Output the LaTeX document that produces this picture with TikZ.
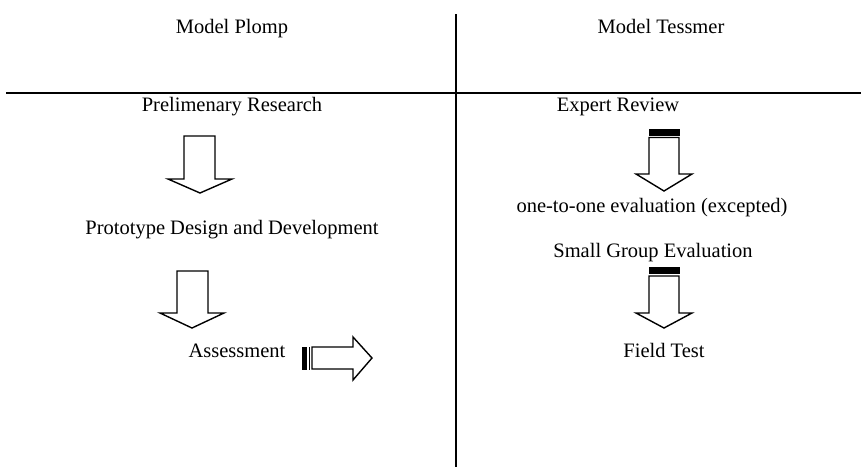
\documentclass[tikz,border=0pt]{standalone}
\usepackage{fontspec}
\setmainfont{Liberation Serif}
\begin{document}
\begin{tikzpicture}[x=1pt,y=-1pt,
  lbl/.style={font=\fontsize{20.5}{24}\selectfont, anchor=base, inner sep=0pt},
  rule/.style={line width=2pt},
  blockarrow/.style={draw=black, line width=1.4pt, fill=white, line join=miter},
  stripe/.style={fill=black, draw=black, line width=0.6pt}]
\useasboundingbox (0,0) rectangle (861,467);
% dividing lines
\coordinate (hl) at (6,93);
\coordinate (hr) at (861,93);
\coordinate (vt) at (456,14);
\coordinate (vb) at (456,467);
\draw[rule] (hl) -- (hr);
\draw[rule] (vt) -- (vb);
% texts
\node[lbl] (plomp) at (232,33) {Model Plomp};
\node[lbl] (tessmer) at (661,33) {Model Tessmer};
\node[lbl] (prelim) at (232,111) {Prelimenary Research};
\node[lbl] (proto) at (232,234) {Prototype Design and Development};
\node[lbl] (assess) at (237,357) {Assessment};
\node[lbl] (expert) at (618,111) {Expert Review};
\node[lbl] (onetoone) at (652,212) {one-to-one evaluation (excepted)};
\node[lbl] (small) at (653,257) {Small Group Evaluation};
\node[lbl] (field) at (664,357) {Field Test};
% left arrow 1
\draw[blockarrow] (184,136) -- (215,136) -- (215,179) -- (232,179) -- (200,193) -- (168,179) -- (184,179) -- cycle;
% left arrow 2
\draw[blockarrow] (177,271) -- (208,271) -- (208,313) -- (224,313) -- (192,328) -- (160,313) -- (177,313) -- cycle;
% right-pointing striped arrow
\draw[blockarrow] (312,347) -- (353,347) -- (353,337) -- (372,358) -- (353,380) -- (353,369) -- (312,369) -- cycle;
\draw[stripe] (302,347) rectangle (306.5,369);
\draw[stripe] (308.8,347) rectangle (309.6,369);
% right arrow 1
\draw[blockarrow] (649,137.5) -- (679,137.5) -- (679,174) -- (692,174) -- (664,191) -- (636,174) -- (649,174) -- cycle;
\draw[stripe] (649,129) rectangle (679,135);
% right arrow 2
\draw[blockarrow] (649,276) -- (679,276) -- (679,313) -- (692,313) -- (664,328) -- (636,313) -- (649,313) -- cycle;
\draw[stripe] (649,267) rectangle (679,273.5);
\end{tikzpicture}
\end{document}
